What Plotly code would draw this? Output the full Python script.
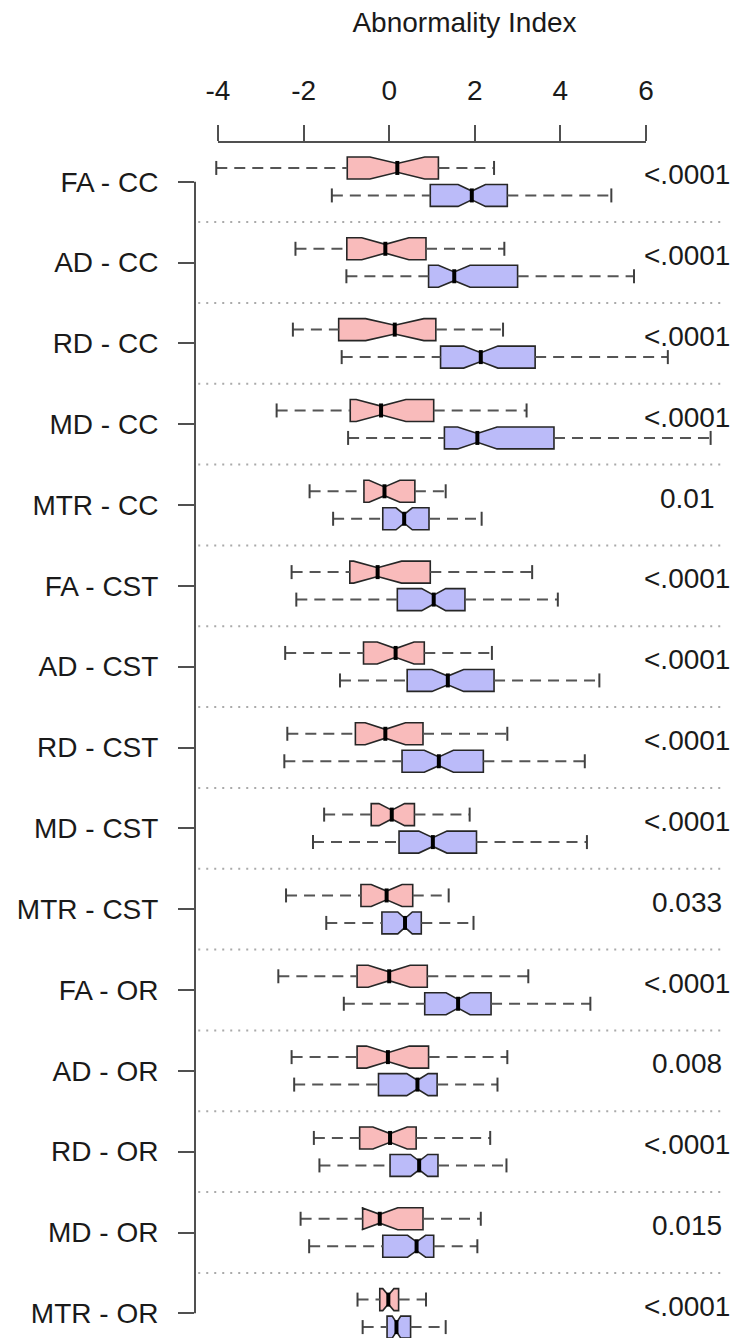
import plotly.graph_objects as go

categories = ["FA - CC", "AD - CC", "RD - CC", "MD - CC", "MTR - CC",
              "FA - CST", "AD - CST", "RD - CST", "MD - CST", "MTR - CST",
              "FA - OR", "AD - OR", "RD - OR", "MD - OR", "MTR - OR"]
p_values = ["<.0001", "<.0001", "<.0001", "<.0001", "0.01",
            "<.0001", "<.0001", "<.0001", "<.0001", "0.033",
            "<.0001", "0.008", "<.0001", "0.015", "<.0001"]
x_ticks = [-4, -2, 0, 2, 4, 6]

# group 1 (pink)
ctrl_low = [-4.04, -2.19, -2.25, -2.63, -1.86, -2.28, -2.43, -2.38, -1.52, -2.41, -2.59, -2.28, -1.76, -2.07, -0.74]
ctrl_q1 = [-0.98, -0.99, -1.18, -0.91, -0.59, -0.92, -0.60, -0.79, -0.42, -0.66, -0.75, -0.75, -0.69, -0.62, -0.22]
ctrl_med = [0.19, -0.09, 0.13, -0.19, -0.11, -0.27, 0.15, -0.09, 0.06, -0.06, 0.00, -0.03, 0.02, -0.22, -0.02]
ctrl_q3 = [1.15, 0.86, 1.09, 1.04, 0.60, 0.96, 0.82, 0.79, 0.59, 0.55, 0.89, 0.92, 0.63, 0.79, 0.22]
ctrl_high = [2.45, 2.69, 2.66, 3.21, 1.32, 3.34, 2.40, 2.76, 1.88, 1.39, 3.25, 2.76, 2.36, 2.14, 0.86]
ctrl_notch = [0.64, 0.55, 0.68, 0.58, 0.36, 0.56, 0.43, 0.47, 0.30, 0.36, 0.49, 0.50, 0.40, 0.42, 0.13]

# group 2 (blue)
pat_low = [-1.34, -1.00, -1.11, -0.96, -1.31, -2.17, -1.15, -2.45, -1.78, -1.47, -1.06, -2.22, -1.63, -1.87, -0.62]
pat_q1 = [0.96, 0.92, 1.20, 1.29, -0.15, 0.19, 0.42, 0.30, 0.23, -0.17, 0.83, -0.25, 0.02, -0.15, -0.05]
pat_med = [1.93, 1.52, 2.14, 2.06, 0.35, 1.04, 1.37, 1.16, 1.02, 0.37, 1.61, 0.66, 0.70, 0.64, 0.17]
pat_q3 = [2.76, 3.00, 3.41, 3.85, 0.93, 1.77, 2.45, 2.20, 2.04, 0.75, 2.38, 1.12, 1.14, 1.04, 0.50]
pat_high = [5.19, 5.72, 6.51, 7.51, 2.16, 3.94, 4.91, 4.57, 4.62, 1.97, 4.70, 2.53, 2.74, 2.06, 1.32]
pat_notch = [0.32, 0.37, 0.40, 0.46, 0.19, 0.28, 0.37, 0.34, 0.33, 0.17, 0.28, 0.25, 0.20, 0.21, 0.10]

FONT = "Liberation Sans, Arial, Helvetica, sans-serif"
AXC = "#505050"
n = len(categories)
idx = list(range(n))

groups = [
    dict(low=ctrl_low, q1=ctrl_q1, med=ctrl_med, q3=ctrl_q3, high=ctrl_high,
         notch=ctrl_notch, fill="#F9BBBB", off=-0.17),
    dict(low=pat_low, q1=pat_q1, med=pat_med, q3=pat_q3, high=pat_high,
         notch=pat_notch, fill="#BBBBF9", off=0.17),
]

fig = go.Figure()
for g in groups:
    pos = [i + g["off"] for i in idx]
    wx, wy = [], []
    for p, lo, a, b, hi in zip(pos, g["low"], g["q1"], g["q3"], g["high"]):
        wx += [lo, a, None, b, hi, None]
        wy += [p, p, None, p, p, None]
    fig.add_trace(go.Scatter(x=wx, y=wy, mode="lines",
                             line=dict(color="#555555", width=2, dash="11px,7px"),
                             hoverinfo="skip", showlegend=False))
    fig.add_trace(go.Scatter(x=g["low"] + g["high"], y=pos + pos, mode="markers",
                             marker=dict(symbol="line-ns", size=10,
                                         line=dict(color="#404040", width=2)),
                             hoverinfo="skip", showlegend=False))
    fig.add_trace(go.Box(y=pos, q1=g["q1"], median=g["med"], q3=g["q3"],
                         lowerfence=g["q1"], upperfence=g["q3"],
                         notchspan=g["notch"], notched=True, notchwidth=0.3,
                         orientation="h", width=0.272, fillcolor=g["fill"],
                         line=dict(color="#262626", width=1.6), whiskerwidth=0,
                         boxpoints=False, hoverinfo="skip", showlegend=False))
    fig.add_trace(go.Scatter(x=g["med"], y=pos, mode="markers",
                             marker=dict(symbol="line-ns", size=10,
                                         line=dict(color="black", width=4)),
                             hoverinfo="skip", showlegend=False))

shapes = []
for i in range(n - 1):
    shapes.append(dict(type="line", xref="paper", yref="y", x0=0.006, x1=0.985,
                       y0=i + 0.5, y1=i + 0.5,
                       line=dict(color="#aaaaaa", width=2, dash="2px,6px")))
shapes.append(dict(type="line", xref="paper", yref="y", x0=0, x1=0, y0=0, y1=n - 1,
                   line=dict(color=AXC, width=2)))
shapes.append(dict(type="line", xref="x", yref="paper", x0=x_ticks[0], x1=x_ticks[-1],
                   y0=1, y1=1, line=dict(color=AXC, width=2)))

annotations = []
for i, p in enumerate(p_values):
    annotations.append(dict(x=6.96, y=i, xref="x", yref="y", text=p.replace("<", "&lt;"),
                            showarrow=False, xanchor="center", yanchor="middle", yshift=7,
                            font=dict(family=FONT, size=28, color="#1a1a1a")))

fig.update_layout(
    width=734, height=1338,
    margin=dict(l=195, r=0, t=142, b=0),
    paper_bgcolor="white", plot_bgcolor="white",
    font=dict(family=FONT, size=28, color="#1a1a1a"),
    showlegend=False, boxmode="overlay",
    title=dict(text="Abnormality Index", x=0.5, xref="paper", xanchor="center",
               y=1 - 22.5 / 1338, yref="container", yanchor="middle",
               font=dict(family=FONT, size=28, color="#1a1a1a")),
    xaxis=dict(side="top", range=[-4.537, 8.056], tickvals=x_ticks,
               ticktext=[str(v) for v in x_ticks],
               ticks="outside", ticklen=16, tickwidth=2, tickcolor=AXC,
               showline=False, showgrid=False, zeroline=False,
               tickfont=dict(family=FONT, size=28, color="#1a1a1a"),
               ticklabelstandoff=14),
    yaxis=dict(range=[14.305, -0.491], tickvals=idx, ticktext=categories,
               ticks="outside", ticklen=16, tickwidth=2, tickcolor=AXC,
               showline=False, showgrid=False, zeroline=False,
               tickfont=dict(family=FONT, size=28, color="#1a1a1a"),
               ticklabelstandoff=14),
    shapes=shapes, annotations=annotations,
)

fig.write_html("out.html", config={"displayModeBar": False})
